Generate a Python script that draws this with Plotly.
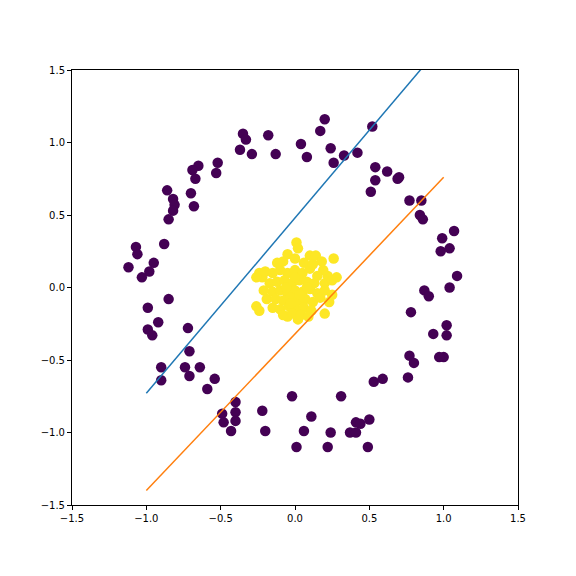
import plotly.graph_objects as go

outer = [(0.52,1.11),(0.2,1.16),(0.17,1.08),(-0.35,1.06),(-0.33,1.02),(-0.18,1.05),(-0.37,0.95),(-0.29,0.92),(-0.13,0.92),(0.04,0.99),(0.08,0.9),(0.24,0.96),(0.33,0.91),(0.26,0.86),(0.42,0.93),(0.54,0.83),(0.62,0.8),(0.54,0.74),(0.51,0.66),(0.7,0.76),(0.69,0.75),(0.77,0.6),(0.85,0.6),(0.84,0.5),(0.86,0.47),(-0.52,0.86),(-0.65,0.84),(-0.69,0.81),(-0.67,0.75),(-0.53,0.79),(-0.7,0.65),(-0.68,0.56),(-0.86,0.67),(-0.82,0.61),(-0.81,0.57),(-0.82,0.53),(-0.85,0.47),(-1.07,0.28),(-1.06,0.23),(-0.88,0.3),(-0.95,0.17),(-0.98,0.11),(-1.03,0.07),(-1.12,0.14),(-0.85,-0.08),(-0.99,-0.14),(-0.72,-0.28),(-0.92,-0.24),(-0.99,-0.29),(-0.96,-0.33),(-0.9,-0.55),(-0.9,-0.64),(-0.71,-0.44),(-0.74,-0.55),(-0.71,-0.61),(-0.64,-0.55),(-0.59,-0.7),(-0.54,-0.63),(-0.4,-0.79),(-0.49,-0.87),(-0.48,-0.93),(-0.4,-0.86),(-0.4,-0.92),(-0.43,-0.99),(-0.22,-0.85),(-0.2,-0.99),(-0.02,-0.75),(0.01,-1.1),(0.06,-0.99),(0.11,-0.89),(0.24,-1.0),(0.22,-1.1),(0.31,-0.75),(0.37,-1.0),(0.41,-0.93),(0.44,-0.94),(0.41,-1.0),(0.49,-1.1),(0.5,-0.91),(0.53,-0.65),(0.59,-0.63),(0.76,-0.62),(0.77,-0.47),(0.8,-0.52),(0.93,-0.32),(1.0,-0.48),(0.97,-0.48),(1.02,-0.33),(1.02,-0.26),(0.87,-0.02),(0.9,-0.06),(1.04,0.0),(1.09,0.08),(0.98,0.25),(1.04,0.27),(0.99,0.34),(1.07,0.39),(0.78,-0.17)]
inner = [(0.01,0.31),(0.02,0.27),(-0.05,0.23),(0.1,0.22),(0.14,0.22),(0.26,0.2),(-0.24,0.1),(-0.22,0.07),(-0.26,0.07),(-0.26,-0.13),(-0.24,-0.16),(-0.19,-0.08),(0.2,-0.18),(0.02,-0.22),(-0.05,-0.2),(0.28,0.07),(0.22,0.08),(0.19,0.12),
(-0.15,0.1),(-0.1,0.12),(-0.05,0.1),(0.0,0.12),(0.05,0.1),(0.1,0.13),(0.15,0.08),(-0.17,0.03),(-0.12,0.04),(-0.07,0.05),(-0.02,0.03),(0.03,0.05),(0.08,0.04),(0.13,0.03),(0.2,0.03),(0.25,0.05),
(-0.15,-0.03),(-0.1,-0.02),(-0.05,-0.04),(0.0,-0.02),(0.05,-0.03),(0.1,-0.01),(0.15,-0.04),(0.2,-0.02),(-0.13,-0.08),(-0.08,-0.09),(-0.03,-0.07),(0.02,-0.09),(0.07,-0.08),(0.12,-0.1),(0.17,-0.07),
(-0.15,-0.14),(-0.1,-0.15),(-0.04,-0.13),(0.01,-0.15),(0.06,-0.14),(0.11,-0.16),(-0.08,-0.19),(-0.02,-0.18),(0.04,-0.19),(0.09,-0.2),(0.0,0.2),(-0.08,0.18),(0.06,0.17),(0.12,0.16),(-0.2,0.11),(0.23,-0.1),(0.25,-0.05),(-0.21,-0.02),(0.0,0.07),(-0.03,-0.11),(0.08,0.0),(0.18,0.18),(-0.12,0.17),(0.03,-0.05),(-0.06,0.0)]

blue_x = [-1.0, 1.0]; blue_y = [-0.73, 1.69]
orange_x = [-1.0, 1.0]; orange_y = [-1.40, 0.76]

fig = go.Figure()
fig.add_trace(go.Scatter(x=[p[0] for p in outer], y=[p[1] for p in outer], mode='markers',
    marker=dict(size=10.5, color='#440154', line=dict(width=0))))
fig.add_trace(go.Scatter(x=[p[0] for p in inner], y=[p[1] for p in inner], mode='markers',
    marker=dict(size=10.5, color='#fde725', line=dict(width=0))))
fig.add_trace(go.Scatter(x=blue_x, y=blue_y, mode='lines', line=dict(color='#1f77b4', width=1.5)))
fig.add_trace(go.Scatter(x=orange_x, y=orange_y, mode='lines', line=dict(color='#ff7f0e', width=1.5)))

ax = dict(range=[-1.5, 1.5], tickvals=[-1.5,-1,-0.5,0,0.5,1,1.5], ticktext=['−1.5','−1.0','−0.5','0.0','0.5','1.0','1.5'],
          showgrid=False, zeroline=False, showline=True, linecolor='black', linewidth=1, mirror=True,
          ticks='outside', ticklen=4, tickcolor='black', tickfont=dict(family='DejaVu Sans', size=10, color='black'))
fig.update_layout(width=576, height=576, margin=dict(l=64, r=66, t=62, b=79), showlegend=False,
                  plot_bgcolor='white', paper_bgcolor='white', xaxis=ax, yaxis=ax)
fig.write_html("out.html")
